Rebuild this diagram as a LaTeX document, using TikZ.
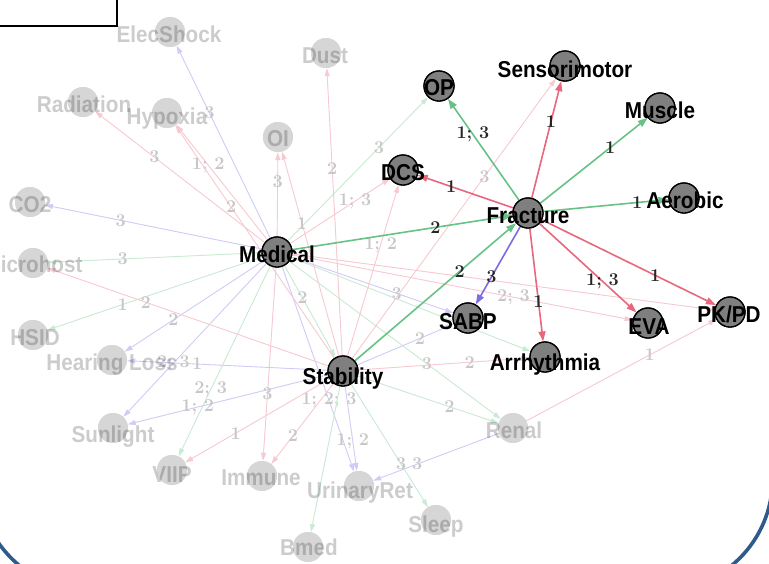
\documentclass[tikz,border=0pt]{standalone}
\usepackage{fontspec}
\newfontfamily\lblfont{Liberation Sans}[FakeStretch=0.9]
\usetikzlibrary{arrows.meta}
\definecolor{ered}{HTML}{E8677D}
\definecolor{egrn}{HTML}{66C285}
\definecolor{eblu}{HTML}{7B6EE6}
\definecolor{frameblue}{HTML}{2F5A8C}
\definecolor{nodegray}{HTML}{7F7F7F}
\definecolor{fadegray}{HTML}{D6D6D6}
\tikzset{
  dnode/.style={circle, fill=nodegray, draw=black, line width=1.3pt, minimum size=30pt, inner sep=0pt},
  fnode/.style={circle, fill=fadegray, minimum size=30pt, inner sep=0pt},
  dlab/.style={anchor=base, inner sep=0pt, font=\lblfont\bfseries\fontsize{23}{23}\selectfont},
  flab/.style={dlab, text=black, text opacity=0.2},
  sedge/.style={line width=1.6pt, -{Triangle[length=10pt,width=7pt]}},
  fedge/.style={line width=0.9pt, -{Triangle[length=8pt,width=5pt]}},
  fr/.style={fedge, draw=ered!35!white, fill=ered!35!white},
  fg/.style={fedge, draw=egrn!35!white, fill=egrn!35!white},
  fb/.style={fedge, draw=eblu!35!white, fill=eblu!35!white},
  elab/.style={pos=0.65, inner sep=1pt, text=black!85, font=\bfseries\fontsize{18}{18}\selectfont},
  felab/.style={elab, text=black!22},
}
\begin{document}
\begin{tikzpicture}[x=1pt, y=-1pt]
\useasboundingbox (0,0) rectangle (769,563);
\clip (0,0) rectangle (769,563);

% emphasised vertices
\node[dnode] (op)   at (439,86)  {};
\node[dnode] (sen)  at (565,66)  {};
\node[dnode] (mus)  at (660,108) {};
\node[dnode] (dcs)  at (403,170) {};
\node[dnode] (aer)  at (684,198) {};
\node[dnode] (fra)  at (528,213) {};
\node[dnode] (med)  at (277,252) {};
\node[dnode] (sabp) at (468,318) {};
\node[dnode] (eva)  at (648,323) {};
\node[dnode] (pkpd) at (730,312) {};
\node[dnode] (arr)  at (545,357) {};
\node[dnode] (stab) at (343,371) {};

% background vertices
\node[fnode] (els)  at (170,32)  {};
\node[fnode] (dust) at (326,53)  {};
\node[fnode] (rad)  at (83,102)  {};
\node[fnode] (hyp)  at (167,113) {};
\node[fnode] (oi)   at (278,137) {};
\node[fnode] (co2)  at (30,202)  {};
\node[fnode] (mic)  at (33,263)  {};
\node[fnode] (hsid) at (33,335)  {};
\node[fnode] (hear) at (112,360) {};
\node[fnode] (sun)  at (113,428) {};
\node[fnode] (viip) at (172,470) {};
\node[fnode] (imm)  at (262,476) {};
\node[fnode] (uri)  at (359,486) {};
\node[fnode] (slp)  at (436,520) {};
\node[fnode] (bmed) at (308,547) {};
\node[fnode] (ren)  at (513,428) {};

% background edges
\draw[fb] (med) -- node[felab]{3} (els);
\draw[fr] (med) -- node[felab]{3} (rad);
\draw[fr] (med) -- node[felab]{1; 2} (hyp);
\draw[fr] (med) -- node[felab]{3} (oi);
\draw[fg] (med) -- node[felab]{3} (op);
\draw[fr] (med) -- node[felab]{1; 3} (dcs);
\draw[fb] (med) -- node[felab]{3} (co2);
\draw[fg] (med) -- node[felab]{3} (mic);
\draw[fg] (med) -- node[felab]{1} (hsid);
\draw[fb] (med) -- node[felab]{2} (hear);
\draw[fb] (med) -- node[felab]{2; 3} (sun);
\draw[fg] (med) -- node[felab]{2; 3} (viip);
\draw[fr] (med) -- node[felab]{3} (imm);
\draw[fb] (med) -- node[felab]{1; 2; 3} (uri);
\draw[fg] (med) -- node[felab, pos=0.35]{2} (stab);
\draw[fb] (med) -- node[felab]{3} (sabp);
\draw[fr] (med) -- node[felab]{2; 3} (eva);
\draw[fr] (med) -- (pkpd);
\draw[fg] (med) -- node[felab]{3} (ren);
\draw[fg] (med) -- (arr);
\draw[fr] (stab) -- node[felab]{2} (dust);
\draw[fr] (stab) -- node[felab]{2} (hyp);
\draw[fr] (stab) -- node[felab]{1} (oi);
\draw[fr] (stab) -- node[felab]{1; 2} (dcs);
\draw[fr] (stab) -- node[felab]{3} (sen);
\draw[fr] (stab) -- node[felab]{2} (mic);
\draw[fb] (stab) -- node[felab]{1} (hear);
\draw[fb] (stab) -- node[felab]{1; 2} (sun);
\draw[fr] (stab) -- node[felab]{1} (viip);
\draw[fr] (stab) -- node[felab]{2} (imm);
\draw[fb] (stab) -- node[felab]{1; 2} (uri);
\draw[fg] (stab) -- (bmed);
\draw[fg] (stab) -- node[felab]{3} (slp);
\draw[fg] (stab) -- node[felab]{2} (ren);
\draw[fb] (stab) -- node[felab]{2} (sabp);
\draw[fr] (stab) -- node[felab]{2} (arr);
\draw[fb] (ren) -- node[felab]{3} (uri);
\draw[fr] (ren) -- node[felab]{1} (pkpd);

% edges out of Fracture and into it
\draw[sedge, egrn] (fra) -- node[elab]{1; 3} (op);
\draw[sedge, ered] (fra) -- node[elab]{1} (sen);
\draw[sedge, egrn] (fra) -- node[elab]{1} (mus);
\draw[sedge, ered] (fra) -- node[elab]{1} (dcs);
\draw[sedge, egrn] (fra) -- node[elab, pos=0.75]{1} (aer);
\draw[sedge, eblu] (fra) -- node[elab]{3} (sabp);
\draw[sedge, ered] (fra) -- node[elab]{1} (arr);
\draw[sedge, ered] (fra) -- node[elab]{1; 3} (eva);
\draw[sedge, ered] (fra) -- node[elab]{1} (pkpd);
\draw[sedge, egrn] (med) -- node[elab]{2} (fra);
\draw[sedge, egrn] (stab) -- node[elab]{2} (fra);

% redraw vertices above the edges
\foreach \n in {els,dust,rad,hyp,oi,co2,mic,hsid,hear,sun,viip,imm,uri,slp,bmed,ren}
  \node[fnode] at (\n) {};
\foreach \n in {op,sen,mus,dcs,aer,fra,med,sabp,eva,pkpd,arr,stab}
  \node[dnode] at (\n) {};

% vertex names
\node[flab] at (169,42)  {ElecShock};
\node[flab] at (325,63)  {Dust};
\node[flab] at (84,112)  {Radiation};
\node[flab] at (167,124) {Hypoxia};
\node[flab] at (278,146) {OI};
\node[flab] at (30,212)  {CO2};
\node[flab] at (33,272)  {Microhost};
\node[flab] at (35,345)  {HSID};
\node[flab] at (112,370) {Hearing Loss};
\node[flab] at (113,442) {Sunlight};
\node[flab] at (172,482) {VIIP};
\node[flab] at (261,485) {Immune};
\node[flab] at (360,498) {UrinaryRet};
\node[flab] at (436,532) {Sleep};
\node[flab] at (309,555) {Bmed};
\node[flab] at (514,438) {Renal};

\node[dlab] at (439,95)  {OP};
\node[dlab] at (565,77)  {Sensorimotor};
\node[dlab] at (660,118) {Muscle};
\node[dlab] at (403,180) {DCS};
\node[dlab] at (685,208) {Aerobic};
\node[dlab] at (528,223) {Fracture};
\node[dlab] at (277,262) {Medical};
\node[dlab] at (468,329) {SABP};
\node[dlab] at (649,334) {EVA};
\node[dlab] at (729,322) {PK/PD};
\node[dlab] at (545,370) {Arrhythmia};
\node[dlab] at (343,384) {Stability};

% frame pieces
\draw[line width=1.5pt] (-5,-5) rectangle (117,26);
\draw[frameblue, line width=3.6pt, rounded corners=112pt] (-21.5,-200) rectangle (772.5,591);
\end{tikzpicture}
\end{document}
